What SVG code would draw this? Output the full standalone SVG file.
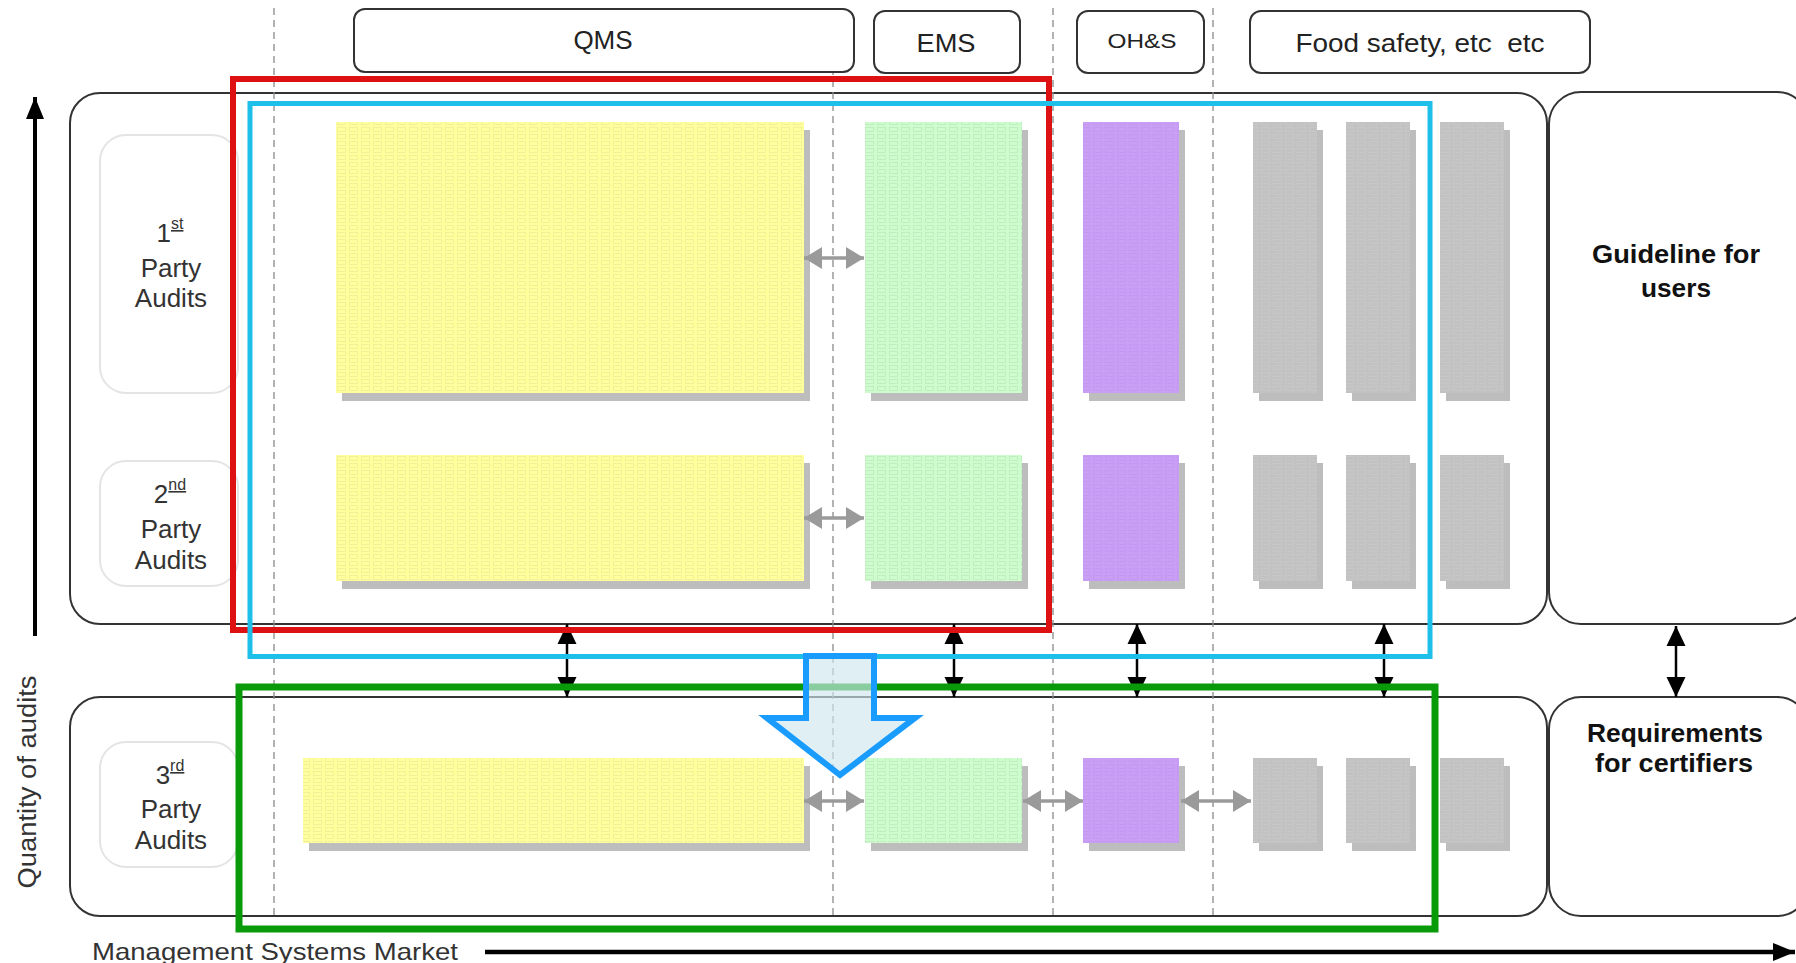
<svg xmlns="http://www.w3.org/2000/svg" width="1796" height="963" viewBox="0 0 1796 963">
<style>
.t{font-family:"Liberation Sans",Arial,sans-serif;}
.hdr{fill:#fff;stroke:#333;stroke-width:2;}
.panel{fill:#fff;stroke:#333;stroke-width:2;}
.lbl{fill:#fff;stroke:#e4e4e4;stroke-width:2;}
.lt{font-family:"Liberation Sans",Arial,sans-serif;font-size:26px;fill:#333;text-anchor:middle;}
.bt{font-family:"Liberation Sans",Arial,sans-serif;font-size:26px;font-weight:bold;fill:#111;text-anchor:middle;}
.ht{font-family:"Liberation Sans",Arial,sans-serif;fill:#222;text-anchor:middle;}
.dash{stroke:#8a8a8a;stroke-width:1.3;stroke-dasharray:7,5;fill:none;}
.sh{fill:#bdbdbd;}
.y{fill:url(#pY);}
.g{fill:url(#pG);}
.p{fill:url(#pP);}
.k{fill:url(#pK);}
.blk{stroke:#000;stroke-width:2.5;fill:none;marker-start:url(#ahB);marker-end:url(#ahB);}
.gry{stroke:#9a9a9a;stroke-width:3.5;fill:none;marker-start:url(#ahG);marker-end:url(#ahG);}
.sup{font-size:16px;text-decoration:underline;}
</style>
<defs>
<pattern id="pY" width="12" height="7" patternUnits="userSpaceOnUse"><rect width="12" height="7" fill="#ffff9c"/><rect x="1.5" y="1.5" width="8" height="4" fill="none" stroke="#ebeb9c" stroke-width="0.7"/></pattern>
<pattern id="pG" width="12" height="7" patternUnits="userSpaceOnUse"><rect width="12" height="7" fill="#cdfccd"/><rect x="1.5" y="1.5" width="8" height="4" fill="none" stroke="#bde6bd" stroke-width="0.7"/></pattern>
<pattern id="pP" width="12" height="7" patternUnits="userSpaceOnUse"><rect width="12" height="7" fill="#c99ff6"/><rect x="1.5" y="1.5" width="8" height="4" fill="none" stroke="#bf95ee" stroke-width="0.7"/></pattern>
<pattern id="pK" width="12" height="7" patternUnits="userSpaceOnUse"><rect width="12" height="7" fill="#c2c2c2"/><rect x="1.5" y="1.5" width="8" height="4" fill="none" stroke="#c9c9c9" stroke-width="0.7"/></pattern>
<marker id="ahB" viewBox="0 0 20 20" refX="20" refY="10" markerWidth="20" markerHeight="20" markerUnits="userSpaceOnUse" orient="auto-start-reverse"><path d="M0,0.5 L20,10 L0,19.5 Z" fill="#000"/></marker>
<marker id="ahG" viewBox="0 0 18 22" refX="18" refY="11" markerWidth="18" markerHeight="22" markerUnits="userSpaceOnUse" orient="auto-start-reverse"><path d="M0,0 L18,11 L0,22 Z" fill="#9a9a9a"/></marker>
<marker id="ahA" viewBox="0 0 22 18" refX="22" refY="9" markerWidth="22" markerHeight="18" markerUnits="userSpaceOnUse" orient="auto"><path d="M0,0 L22,9 L0,18 Z" fill="#000"/></marker>
</defs>
<rect width="1796" height="963" fill="#fff"/>

<!-- panels -->
<g id="panel-upper"><rect class="panel" x="70" y="93" width="1477" height="531" rx="30"/></g>
<g id="panel-lower"><rect class="panel" x="70" y="697" width="1477" height="219" rx="30"/></g>
<g id="panel-guideline"><rect class="panel" x="1549" y="92" width="260" height="532" rx="32"/>
<text class="bt" x="1676" y="263" textLength="168" lengthAdjust="spacingAndGlyphs">Guideline for</text>
<text class="bt" x="1676" y="297" textLength="70" lengthAdjust="spacingAndGlyphs">users</text></g>
<g id="panel-requirements"><rect class="panel" x="1549" y="697" width="260" height="219" rx="32"/>
<text class="bt" x="1675" y="742" textLength="176" lengthAdjust="spacingAndGlyphs">Requirements</text>
<text class="bt" x="1674" y="772" textLength="158" lengthAdjust="spacingAndGlyphs">for certifiers</text></g>

<!-- dashed separators -->
<g id="separators">
<line class="dash" x1="274" y1="8" x2="274" y2="916"/>
<line class="dash" x1="833" y1="8" x2="833" y2="916"/>
<line class="dash" x1="1053" y1="8" x2="1053" y2="916"/>
<line class="dash" x1="1213" y1="8" x2="1213" y2="916"/>
</g>

<!-- header nodes -->
<g id="hdr-qms"><rect class="hdr" x="354" y="9" width="500" height="63" rx="11"/><text class="ht" x="603" y="49" font-size="26">QMS</text></g>
<g id="hdr-ems"><rect class="hdr" x="874" y="11" width="146" height="62" rx="11"/><text class="ht" x="946" y="52" font-size="25" textLength="59" lengthAdjust="spacingAndGlyphs">EMS</text></g>
<g id="hdr-ohs"><rect class="hdr" x="1077" y="11" width="127" height="62" rx="11"/><text class="ht" x="1142" y="48" font-size="21" textLength="69" lengthAdjust="spacingAndGlyphs">OH&amp;S</text></g>
<g id="hdr-food"><rect class="hdr" x="1250" y="11" width="340" height="62" rx="11"/><text class="ht" x="1420" y="52" font-size="25" textLength="249" lengthAdjust="spacingAndGlyphs" xml:space="preserve">Food safety, etc  etc</text></g>

<!-- row labels -->
<g id="label-1st"><rect class="lbl" x="100" y="135" width="138" height="258" rx="26"/>
<text class="lt" x="170" y="242">1<tspan class="sup" dy="-13">st</tspan></text>
<text class="lt" x="171" y="277">Party</text><text class="lt" x="171" y="307">Audits</text></g>
<g id="label-2nd"><rect class="lbl" x="100" y="461" width="138" height="125" rx="26"/>
<text class="lt" x="170" y="503">2<tspan class="sup" dy="-13">nd</tspan></text>
<text class="lt" x="171" y="538">Party</text><text class="lt" x="171" y="569">Audits</text></g>
<g id="label-3rd"><rect class="lbl" x="100" y="742" width="138" height="125" rx="26"/>
<text class="lt" x="170" y="784">3<tspan class="sup" dy="-13">rd</tspan></text>
<text class="lt" x="171" y="818">Party</text><text class="lt" x="171" y="849">Audits</text></g>

<!-- row 1 blocks -->
<g id="r1-qms"><rect class="sh" x="342" y="130" width="468" height="271"/><rect class="y" x="336" y="122" width="468" height="271"/></g>
<g id="r1-ems"><rect class="sh" x="871" y="130" width="157" height="271"/><rect class="g" x="865" y="122" width="157" height="271"/></g>
<g id="r1-ohs"><rect class="sh" x="1089" y="130" width="96" height="271"/><rect class="p" x="1083" y="122" width="96" height="271"/></g>
<g id="r1-food1"><rect class="sh" x="1259" y="130" width="64" height="271"/><rect class="k" x="1253" y="122" width="64" height="271"/></g>
<g id="r1-food2"><rect class="sh" x="1352" y="130" width="64" height="271"/><rect class="k" x="1346" y="122" width="64" height="271"/></g>
<g id="r1-food3"><rect class="sh" x="1446" y="130" width="64" height="271"/><rect class="k" x="1440" y="122" width="64" height="271"/></g>

<!-- row 2 blocks -->
<g id="r2-qms"><rect class="sh" x="342" y="463" width="468" height="126"/><rect class="y" x="336" y="455" width="468" height="126"/></g>
<g id="r2-ems"><rect class="sh" x="871" y="463" width="157" height="126"/><rect class="g" x="865" y="455" width="157" height="126"/></g>
<g id="r2-ohs"><rect class="sh" x="1089" y="463" width="96" height="126"/><rect class="p" x="1083" y="455" width="96" height="126"/></g>
<g id="r2-food1"><rect class="sh" x="1259" y="463" width="64" height="126"/><rect class="k" x="1253" y="455" width="64" height="126"/></g>
<g id="r2-food2"><rect class="sh" x="1352" y="463" width="64" height="126"/><rect class="k" x="1346" y="455" width="64" height="126"/></g>
<g id="r2-food3"><rect class="sh" x="1446" y="463" width="64" height="126"/><rect class="k" x="1440" y="455" width="64" height="126"/></g>

<!-- row 3 blocks -->
<g id="r3-qms"><rect class="sh" x="309" y="766" width="501" height="85"/><rect class="y" x="303" y="758" width="501" height="85"/></g>
<g id="r3-ems"><rect class="sh" x="871" y="766" width="157" height="85"/><rect class="g" x="865" y="758" width="157" height="85"/></g>
<g id="r3-ohs"><rect class="sh" x="1089" y="766" width="96" height="85"/><rect class="p" x="1083" y="758" width="96" height="85"/></g>
<g id="r3-food1"><rect class="sh" x="1259" y="766" width="64" height="85"/><rect class="k" x="1253" y="758" width="64" height="85"/></g>
<g id="r3-food2"><rect class="sh" x="1352" y="766" width="64" height="85"/><rect class="k" x="1346" y="758" width="64" height="85"/></g>
<g id="r3-food3"><rect class="sh" x="1446" y="766" width="64" height="85"/><rect class="k" x="1440" y="758" width="64" height="85"/></g>

<!-- connectors -->
<g id="connectors">
<line class="gry" x1="804" y1="258" x2="864" y2="258"/>
<line class="gry" x1="804" y1="518" x2="864" y2="518"/>
<line class="gry" x1="804" y1="801" x2="864" y2="801"/>
<line class="gry" x1="1023" y1="801" x2="1083" y2="801"/>
<line class="gry" x1="1181" y1="801" x2="1251" y2="801"/>
<line class="blk" x1="567" y1="697" x2="567" y2="624"/>
<line class="blk" x1="954" y1="697" x2="954" y2="624"/>
<line class="blk" x1="1137" y1="697" x2="1137" y2="624"/>
<line class="blk" x1="1384" y1="697" x2="1384" y2="624"/>
<line class="blk" x1="1676" y1="697" x2="1676" y2="626"/>
</g>

<!-- highlight frames -->
<g id="frame-red"><rect x="233" y="79" width="816" height="551" fill="none" stroke="#dd1111" stroke-width="6"/></g>
<g id="frame-cyan"><rect x="250" y="103.5" width="1180" height="553" fill="none" stroke="#1ec0ea" stroke-width="5"/></g>
<g id="frame-green"><rect x="239" y="687" width="1196" height="242" fill="none" stroke="#089a08" stroke-width="7"/></g>

<!-- big down arrow -->
<g id="down-arrow"><path d="M806,656 L874,656 L874,718 L915,718 L840,775 L767,718 L806,718 Z" fill="#cfe6ee" fill-opacity="0.65" stroke="#1a9cff" stroke-width="6"/></g>

<!-- axes -->
<g id="axes">
<line x1="35" y1="636" x2="35" y2="97" stroke="#000" stroke-width="4" marker-end="url(#ahA)"/>
<line x1="485" y1="952" x2="1795" y2="952" stroke="#000" stroke-width="4.5" marker-end="url(#ahA)"/>
<text class="t" x="0" y="0" transform="translate(36,782) rotate(-90)" font-size="26" fill="#333" text-anchor="middle" textLength="213" lengthAdjust="spacingAndGlyphs">Quantity of audits</text>
<text class="t" x="92" y="960" font-size="24" fill="#333" textLength="366" lengthAdjust="spacingAndGlyphs">Management Systems Market</text>
</g>
</svg>
